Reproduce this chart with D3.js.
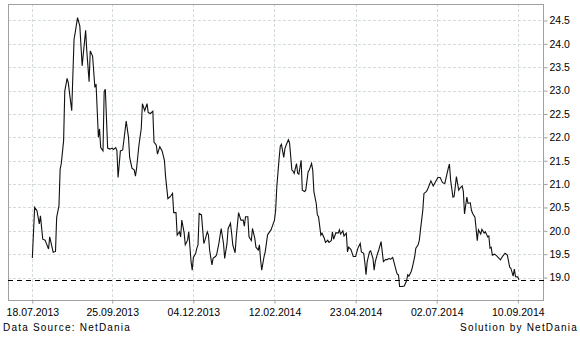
<!DOCTYPE html>
<html>
<head>
<meta charset="utf-8">
<script src="https://cdn.jsdelivr.net/npm/d3@7"></script>
<style>
  body { margin: 0; background: #fff; }
  svg { display: block; }
  .axis text { font-family: "Liberation Sans", Arial, sans-serif; font-size: 10.5px; fill: #000; }
  .axis line { stroke: #a0a0a0; }
  .foot { font-family: "Liberation Sans", Arial, sans-serif; font-size: 10px; letter-spacing: 1.2px; fill: #000; }
</style>
</head>
<body>
<svg width="580" height="338"></svg>
<script>
// series: days after the first quote and the closing value
var startDate = '18.07.2013';
var dayOffsets = [0,2,4,6,7,9,11,14,15,17,18,20,21,23,24,25,27,28,30,31,34,36,37,39,41,43,46,47,49,50,52,54,55,57,58,59,61,62,63,65,67,69,70,72,73,74,76,78,80,81,83,84,
  86,88,89,90,92,94,95,97,99,100,102,104,105,107,108,110,112,114,115,117,119,121,122,124,125,127,128,129,131,132,134,135,137,138,139,141,142,143,144,146,148,149,151,152,153,155,156,158,159,161,163,165,166,168,169,171,
  172,173,175,176,178,180,182,183,184,186,187,189,190,192,193,195,196,197,198,200,201,203,204,206,207,209,210,211,213,214,215,217,218,219,221,222,224,225,226,228,229,230,232,233,235,236,238,239,241,242,243,245,246,247,249,250,252,253,255,256,
  258,259,260,262,264,265,266,268,269,271,272,273,275,277,279,281,283,284,286,287,288,289,291,292,294,295,296,298,299,301,302,303,305,306,308,309,311,312,314,315,316,317,319,321,323,324,325,327,328,330,331,333,334,335,337,338,340,341,
  344,346,348,350,352,354,356,357,359,360,361,363,364,365,366,368,369,371,372,373,375,376,378,379,380,382,383,384,385,387,388,390,391,393,394,395,396,397,399,401,404,406,408,410,412,413,415,416,417,419,420];
var prices = [19.42,20.50,20.43,20.15,20.32,19.82,19.80,19.61,19.87,19.65,19.54,19.56,20.29,20.54,21.32,21.44,21.93,22.99,23.26,23.17,22.57,24.10,24.24,24.56,24.38,23.53,24.29,23.85,23.19,23.85,23.74,23.07,23.14,22.00,22.18,21.78,21.71,22.98,23.03,21.77,21.75,21.77,21.74,21.78,21.71,21.14,21.71,21.73,22.14,22.35,22.00,21.57,
  21.34,21.30,21.17,21.34,21.83,22.19,22.72,22.57,22.72,22.53,22.51,22.56,21.90,21.83,21.64,21.80,21.71,21.51,21.16,20.69,20.73,20.80,20.39,20.39,19.91,19.98,19.87,20.23,19.96,19.70,19.80,19.98,19.34,19.16,19.43,19.52,19.63,19.70,20.37,20.34,19.73,19.80,19.98,19.91,19.59,19.27,19.41,19.45,19.48,19.73,20.05,19.73,19.41,19.73,20.05,20.16,
  19.95,19.70,19.53,19.87,20.39,20.23,20.23,20.10,20.30,20.30,19.87,19.79,20.05,19.84,19.65,19.59,19.70,19.38,19.16,19.45,19.55,19.91,19.95,20.02,20.09,20.23,20.44,20.94,21.55,21.81,21.85,21.57,21.76,21.83,21.95,21.88,21.30,21.28,21.23,21.44,21.23,21.21,21.51,20.87,20.84,20.87,21.26,21.30,21.44,21.30,20.84,20.59,20.34,20.30,19.91,19.95,19.84,19.75,19.80,19.75,
  19.79,19.98,19.82,19.96,19.95,20.02,19.93,20.00,19.89,19.95,19.55,19.65,19.60,19.45,19.45,19.63,19.73,19.55,19.52,19.32,19.06,19.34,19.55,19.57,19.41,19.16,19.34,19.52,19.59,19.77,19.55,19.34,19.39,19.38,19.41,19.39,19.43,19.34,19.15,19.07,19.06,18.81,18.81,18.82,18.93,19.06,19.03,19.13,19.22,19.45,19.63,19.70,19.80,20.02,20.44,20.80,20.84,20.88,
  21.07,20.96,21.05,21.14,21.14,21.03,21.01,21.12,21.34,21.43,21.09,20.72,20.73,20.94,21.16,20.87,20.91,20.96,20.84,20.36,20.72,20.59,20.60,20.44,20.37,20.29,20.05,19.79,20.02,19.93,20.03,19.95,19.98,19.87,19.89,19.63,19.65,19.48,19.50,19.46,19.38,19.46,19.52,19.48,19.22,19.20,19.03,19.18,19.02,19.01,18.95];

var lastPrice = 18.95;
var xTickLabels = ['18.07.2013','25.09.2013','04.12.2013','12.02.2014','23.04.2014','02.07.2014','10.09.2014'];
var yTickValues = [19.0,19.5,20.0,20.5,21.0,21.5,22.0,22.5,23.0,23.5,24.0,24.5];
var xDomainLabels = ['27.06.2013','02.10.2014'];
var yDomain = [18.52, 24.853];

var parse = d3.utcParse('%d.%m.%Y');
var start = parse(startDate);
var series = dayOffsets.map(function(d, i) {
    return {date: d3.utcDay.offset(start, d), value: prices[i]};
});

var svg = d3.select('svg');
var plot = {l: 8, r: 543.3, t: 4, b: 300};

var x = d3.scaleUtc()
    .domain(xDomainLabels.map(parse))
    .range([plot.l, plot.r]);
var y = d3.scaleLinear()
    .domain(yDomain)
    .range([plot.b, plot.t]);

var xTicks = xTickLabels.map(parse);

// grid
var grid = svg.append('g')
    .attr('stroke', '#d3dbdb')
    .attr('stroke-dasharray', '3,2')
    .attr('shape-rendering', 'crispEdges');
grid.selectAll('.gy')
    .data(yTickValues)
    .enter().append('line')
    .attr('x1', plot.l).attr('x2', plot.r)
    .attr('y1', function(d){ return Math.round(y(d)) + 0.5; })
    .attr('y2', function(d){ return Math.round(y(d)) + 0.5; });
grid.selectAll('.gx')
    .data(xTicks)
    .enter().append('line')
    .attr('y1', plot.t).attr('y2', plot.b)
    .attr('x1', function(d){ return Math.round(x(d)) + 0.5; })
    .attr('x2', function(d){ return Math.round(x(d)) + 0.5; });

// frame
svg.append('rect')
    .attr('x', plot.l + 0.5).attr('y', plot.t + 0.5)
    .attr('width', plot.r - plot.l).attr('height', plot.b - plot.t)
    .attr('fill', 'none')
    .attr('stroke', '#a0a0a0')
    .attr('shape-rendering', 'crispEdges');

// axes
var yAxis = svg.append('g')
    .attr('class', 'axis')
    .attr('transform', 'translate(' + [Math.round(plot.r) + 0.5, 0] + ')')
    .call(d3.axisRight(y).tickValues(yTickValues).tickSize(4).tickPadding(2).tickFormat(d3.format('.1f')));
yAxis.select('.domain').remove();

var xAxis = svg.append('g')
    .attr('class', 'axis')
    .attr('transform', 'translate(' + [0, plot.b + 0.5] + ')')
    .call(d3.axisBottom(x).tickValues(xTicks).tickSize(3).tickPadding(5).tickFormat(d3.utcFormat('%d.%m.%Y')));
xAxis.select('.domain').remove();

// last price line
svg.append('line')
    .attr('x1', plot.l).attr('x2', plot.r + 4)
    .attr('y1', Math.round(y(lastPrice)) + 0.5)
    .attr('y2', Math.round(y(lastPrice)) + 0.5)
    .attr('stroke', '#000')
    .attr('stroke-dasharray', '5,4')
    .attr('shape-rendering', 'crispEdges');

// price line
var line = d3.line()
    .x(function(d){ return x(d.date); })
    .y(function(d){ return y(d.value); });

svg.append('path')
    .datum(series)
    .attr('fill', 'none')
    .attr('stroke', '#111')
    .attr('stroke-width', 1.1)
    .attr('d', line);

// footer
svg.append('text')
    .attr('class', 'foot')
    .attr('x', 3).attr('y', 331)
    .text('Data Source: NetDania');
svg.append('text')
    .attr('class', 'foot')
    .attr('x', 578).attr('y', 331)
    .attr('text-anchor', 'end')
    .text('Solution by NetDania');
</script>
</body>
</html>
